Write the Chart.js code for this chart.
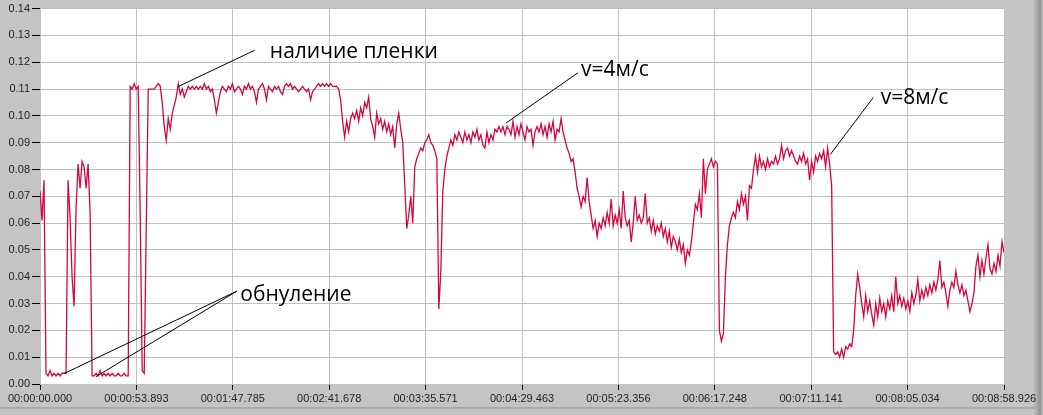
<!DOCTYPE html>
<html>
<head>
<meta charset="utf-8">
<script src="https://cdn.jsdelivr.net/npm/chart.js@4/dist/chart.umd.min.js"></script>
<style>
  body { margin: 0; background: #c4c4c4; }
  canvas { display: block; }
</style>
</head>
<body>
<canvas id="chart" width="1043" height="415"></canvas>
<script>
// tick labels of the time axis (one every 53.893 s)
const timeLabels = ['00:00:00.000','00:00:53.893','00:01:47.785','00:02:41.678','00:03:35.571',
    '00:04:29.463','00:05:23.356','00:06:17.248','00:07:11.141','00:08:05.034','00:08:58.926'];
const yTickValues = [0,0.01,0.02,0.03,0.04,0.05,0.06,0.07,0.08,0.09,0.10,0.11,0.12,0.13,0.14];

const totalTime = 538.926;   // s
const tickStep = 53.8926;    // s

const signal = [
    0.072,0.061,0.076,0.004,0.003,0.005,0.003,0.004,0.003,0.004,
    0.003,0.004,0.004,0.004,0.076,0.062,0.040,0.029,0.066,0.082,
    0.073,0.083,0.081,0.073,0.082,0.064,0.003,0.003,0.004,0.003,
    0.005,0.003,0.004,0.003,0.004,0.003,0.004,0.003,0.003,0.004,
    0.003,0.003,0.004,0.003,0.003,0.111,0.110,0.112,0.110,0.111,
    0.063,0.005,0.004,0.057,0.110,0.110,0.110,0.110,0.111,0.112,
    0.111,0.105,0.096,0.091,0.099,0.095,0.101,0.104,0.107,0.112,
    0.108,0.110,0.107,0.109,0.111,0.110,0.111,0.110,0.111,0.110,
    0.111,0.110,0.112,0.110,0.111,0.109,0.110,0.106,0.101,0.105,
    0.109,0.111,0.110,0.109,0.111,0.110,0.112,0.109,0.110,0.111,
    0.110,0.108,0.111,0.110,0.112,0.110,0.111,0.109,0.105,0.110,
    0.111,0.112,0.110,0.106,0.111,0.110,0.109,0.111,0.110,0.111,
    0.109,0.108,0.111,0.112,0.111,0.112,0.110,0.111,0.110,0.109,
    0.110,0.111,0.110,0.109,0.110,0.106,0.109,0.110,0.111,0.112,
    0.111,0.112,0.111,0.112,0.111,0.112,0.111,0.111,0.111,0.110,
    0.106,0.098,0.092,0.098,0.094,0.099,0.101,0.099,0.102,0.098,
    0.103,0.100,0.105,0.103,0.107,0.099,0.096,0.092,0.101,0.097,
    0.099,0.095,0.098,0.094,0.097,0.093,0.096,0.088,0.097,0.101,
    0.095,0.090,0.074,0.058,0.063,0.070,0.060,0.081,0.084,0.086,
    0.088,0.087,0.090,0.091,0.093,0.090,0.089,0.087,0.084,0.028,
    0.042,0.072,0.080,0.085,0.088,0.091,0.089,0.093,0.091,0.094,
    0.092,0.090,0.094,0.091,0.093,0.090,0.094,0.092,0.095,0.091,
    0.093,0.089,0.088,0.094,0.090,0.093,0.091,0.095,0.094,0.096,
    0.094,0.096,0.093,0.096,0.095,0.093,0.098,0.092,0.096,0.093,
    0.097,0.094,0.091,0.096,0.094,0.095,0.089,0.094,0.096,0.094,
    0.097,0.093,0.096,0.092,0.097,0.094,0.098,0.091,0.095,0.094,
    0.099,0.094,0.091,0.088,0.086,0.083,0.084,0.079,0.073,0.070,
    0.066,0.070,0.068,0.077,0.068,0.063,0.058,0.061,0.055,0.060,
    0.058,0.062,0.059,0.064,0.060,0.069,0.059,0.063,0.060,0.065,
    0.058,0.072,0.062,0.059,0.061,0.053,0.060,0.070,0.061,0.063,
    0.060,0.062,0.071,0.060,0.062,0.057,0.061,0.056,0.059,0.057,
    0.060,0.055,0.058,0.053,0.057,0.051,0.055,0.053,0.050,0.054,
    0.049,0.052,0.045,0.050,0.048,0.053,0.060,0.067,0.065,0.071,
    0.062,0.084,0.071,0.080,0.082,0.084,0.081,0.083,0.082,0.020,
    0.016,0.019,0.040,0.052,0.059,0.062,0.064,0.062,0.068,0.065,
    0.071,0.067,0.070,0.061,0.074,0.073,0.080,0.085,0.079,0.085,
    0.081,0.083,0.080,0.084,0.081,0.083,0.082,0.085,0.082,0.084,
    0.089,0.084,0.087,0.088,0.085,0.087,0.085,0.083,0.082,0.085,
    0.083,0.086,0.082,0.084,0.076,0.083,0.079,0.085,0.083,0.086,
    0.084,0.087,0.081,0.088,0.082,0.074,0.012,0.011,0.012,0.010,
    0.013,0.010,0.014,0.013,0.015,0.014,0.020,0.033,0.041,0.036,
    0.030,0.025,0.033,0.027,0.031,0.026,0.022,0.030,0.025,0.032,
    0.027,0.030,0.025,0.031,0.028,0.033,0.027,0.040,0.030,0.033,
    0.029,0.032,0.028,0.031,0.027,0.034,0.030,0.033,0.039,0.031,
    0.035,0.032,0.036,0.033,0.037,0.034,0.038,0.035,0.039,0.046,
    0.036,0.038,0.034,0.029,0.035,0.038,0.036,0.042,0.037,0.034,
    0.037,0.033,0.035,0.031,0.027,0.030,0.034,0.044,0.048,0.040,
    0.046,0.041,0.047,0.052,0.043,0.041,0.045,0.042,0.048,0.044,
    0.053,0.049
];
const sampleStep = totalTime / (signal.length - 1);

// annotations: text, where the text starts, where the leader ends, what it points at (time s, value)
const noteTexts = ['наличие пленки', 'v=4м/с', 'v=8м/с', 'обнуление'];
const noteTextAt = [[128.5,0.1214],[302.5,0.1150],[470.0,0.1044],[112.0,0.0310]];
const noteLineEnd = [[120.1,0.1245],[300.8,0.1161],[465.8,0.1068],[110.0,0.0346]];
const notePointsAt = [[[77.2,0.1109]],[[260.5,0.0973]],[[441.8,0.0856]],[[13.8,0.0040],[31.2,0.0027]]];

const lineColor = '#d4063e';
const gridColor = '#c0c0c0';
const tickFont = {family: '"Liberation Sans", Arial, sans-serif', size: 11};
const tickColor = '#1e1e2c';

const framePlugin = {
    id: 'frame',
    beforeDraw(chart) {
        const {ctx, chartArea: a, width, height} = chart;
        ctx.save();
        ctx.fillStyle = '#c4c4c4';
        ctx.fillRect(0, 0, width, height);
        // right window edge
        let g = ctx.createLinearGradient(1033, 0, 1041, 0);
        g.addColorStop(0, '#c4c4c4');
        g.addColorStop(1, '#8e8e8e');
        ctx.fillStyle = g;
        ctx.fillRect(1033, 0, 8, height);
        ctx.fillStyle = '#b0b0b0';
        ctx.fillRect(1041, 0, 2, height);
        ctx.fillStyle = '#a8a8a8';
        ctx.fillRect(0, 407, 1035, 2);
        ctx.fillStyle = '#ffffff';
        ctx.fillRect(a.left, a.top, a.right - a.left, a.bottom - a.top);
        ctx.restore();
    }
};

const notesPlugin = {
    id: 'notes',
    afterDatasetsDraw(chart) {
        const {ctx, scales: {x, y}} = chart;
        ctx.save();
        ctx.strokeStyle = '#000';
        ctx.lineWidth = 1;
        ctx.fillStyle = '#000';
        ctx.font = '21px "Open Sans", "DejaVu Sans", sans-serif';
        ctx.textBaseline = 'alphabetic';
        noteTexts.forEach((txt, i) => {
            const ex = x.getPixelForValue(noteLineEnd[i][0]);
            const ey = y.getPixelForValue(noteLineEnd[i][1]);
            for (let p of notePointsAt[i]) {
                ctx.beginPath();
                ctx.moveTo(x.getPixelForValue(p[0]), y.getPixelForValue(p[1]));
                ctx.lineTo(ex, ey);
                ctx.stroke();
            }
            ctx.fillText(txt, x.getPixelForValue(noteTextAt[i][0]), y.getPixelForValue(noteTextAt[i][1]));
        });
        ctx.restore();
    }
};

window.addEventListener('load', () => {
    const points = signal.map((v, i) => ({x: i * sampleStep, y: v}));

    new Chart(document.getElementById('chart'), {
        type: 'line',
        data: {
            datasets: [{
                data: points,
                borderColor: lineColor,
                borderWidth: 1.3,
                pointRadius: 0,
                tension: 0,
                fill: false
            }]
        },
        options: {
            responsive: false,
            animation: false,
            parsing: false,
            layout: {padding: {top: 6, right: 39, left: 0, bottom: 0}},
            plugins: {legend: {display: false}, tooltip: {enabled: false}},
            scales: {
                x: {
                    type: 'linear',
                    min: 0,
                    max: totalTime,
                    afterBuildTicks: scale => { scale.ticks = timeLabels.map((l, i) => ({value: i * tickStep})); },
                    afterFit: scale => { scale.height = 31; },
                    ticks: {
                        autoSkip: false,
                        maxRotation: 0,
                        padding: 2,
                        font: tickFont,
                        color: tickColor,
                        callback: (v, i) => timeLabels[i]
                    },
                    grid: {color: gridColor, tickColor: '#000', tickLength: 6},
                    border: {color: gridColor}
                },
                y: {
                    min: 0,
                    max: 0.14,
                    afterBuildTicks: scale => { scale.ticks = yTickValues.map(v => ({value: v})); },
                    afterFit: scale => { scale.width = 40; },
                    ticks: {
                        autoSkip: false,
                        padding: 2,
                        font: tickFont,
                        color: tickColor,
                        callback: v => v.toFixed(2)
                    },
                    grid: {color: gridColor, tickColor: '#000', tickLength: 8},
                    border: {color: gridColor}
                }
            }
        },
        plugins: [framePlugin, notesPlugin]
    });
});
</script>
</body>
</html>
